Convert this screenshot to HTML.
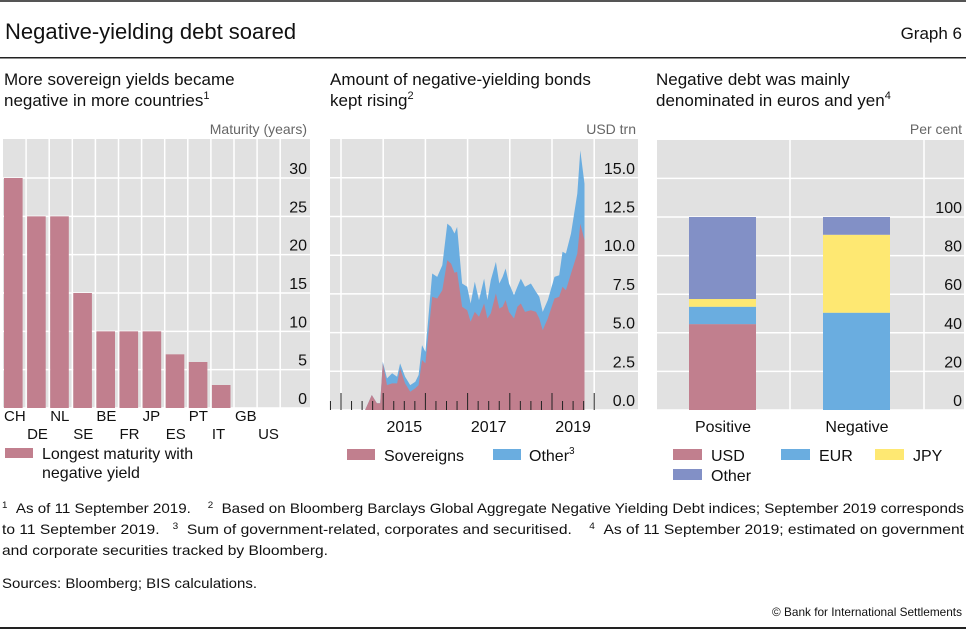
<!DOCTYPE html>
<html><head><meta charset="utf-8"><style>
html,body{margin:0;padding:0;background:#fff;}
svg{display:block;font-family:"Liberation Sans",sans-serif;}
</style></head><body>
<svg id="root" width="966" height="630" viewBox="0 0 966 630">
<rect x="0" y="0" width="966" height="2" fill="#555"/>
<text x="5" y="39" font-size="22" fill="#111">Negative-yielding debt soared</text>
<text x="962" y="39" font-size="17" fill="#111" text-anchor="end">Graph 6</text>
<rect x="0" y="57" width="966" height="1.5" fill="#222"/>

<g font-size="17" fill="#111">
<text x="4" y="85">More sovereign yields became</text>
<text x="4" y="106">negative in more countries<tspan font-size="11" dy="-7">1</tspan></text>
<text x="330" y="85">Amount of negative-yielding bonds</text>
<text x="330" y="106">kept rising<tspan font-size="11" dy="-7">2</tspan></text>
<text x="656" y="85">Negative debt was mainly</text>
<text x="656" y="106">denominated in euros and yen<tspan font-size="11" dy="-7">4</tspan></text>
</g>
<g font-size="14" fill="#666" text-anchor="end">
<text x="307" y="134">Maturity (years)</text>
<text x="636" y="134">USD trn</text>
<text x="962" y="134">Per cent</text>
</g>

<g id="p1"></g>
<g id="p2"></g>
<g id="p3"></g>

<g font-size="14" fill="#111">
<text x="2" y="513" textLength="962" lengthAdjust="spacingAndGlyphs"><tspan font-size="9" dy="-5">1</tspan><tspan dy="5">&#160;&#160;As of 11 September 2019.&#160;&#160;&#160;&#160;</tspan><tspan font-size="9" dy="-5">2</tspan><tspan dy="5">&#160;&#160;Based on Bloomberg Barclays Global Aggregate Negative Yielding Debt indices; September 2019 corresponds</tspan></text>
<text x="2" y="534" textLength="962" lengthAdjust="spacingAndGlyphs">to 11 September 2019.&#160;&#160;&#160;<tspan font-size="9" dy="-5">3</tspan><tspan dy="5">&#160;&#160;Sum of government-related, corporates and securitised.&#160;&#160;&#160;&#160;</tspan><tspan font-size="9" dy="-5">4</tspan><tspan dy="5">&#160;&#160;As of 11 September 2019; estimated on government</tspan></text>
<text x="2" y="555" textLength="326" lengthAdjust="spacingAndGlyphs">and corporate securities tracked by Bloomberg.</text>
<text x="2" y="588" textLength="255" lengthAdjust="spacingAndGlyphs">Sources: Bloomberg; BIS calculations.</text>
<text x="962" y="616" font-size="12" text-anchor="end" textLength="190" lengthAdjust="spacingAndGlyphs">© Bank for International Settlements</text>
</g>
<rect x="0" y="627" width="966" height="2" fill="#222"/>
</svg>
<script>
// Panel 1 data
const countries = ["CH","DE","NL","SE","BE","FR","JP","ES","PT","IT","GB","US"];
const maturities = [30,25,25,15,10,10,10,7,6,3,0,0];
const p1Ticks = [0,5,10,15,20,25,30];
// Panel 2 data
const dates = [2014.57,2014.73,2014.85,2014.93,2014.99,2015.09,2015.21,2015.33,2015.40,2015.52,2015.64,2015.76,2015.84,2015.92,2016.00,2016.16,2016.28,2016.40,2016.52,2016.61,2016.69,2016.75,2016.87,2016.99,2017.07,2017.17,2017.27,2017.39,2017.47,2017.55,2017.67,2017.75,2017.83,2017.90,2017.98,2018.10,2018.18,2018.26,2018.36,2018.50,2018.62,2018.70,2018.78,2018.90,2019.06,2019.17,2019.25,2019.33,2019.45,2019.60,2019.67,2019.77];
const sovereigns = [0,0.97,0.43,0.43,3.01,1.61,1.72,1.72,2.69,1.72,1.18,1.40,1.61,3.23,3.01,7.31,7.20,7.74,9.68,9.46,8.86,8.92,6.67,6.45,5.70,6.34,6.02,6.88,5.91,6.24,7.53,6.56,6.67,7.10,6.34,5.91,6.67,6.88,6.34,6.45,6.34,5.91,5.16,5.91,7.20,7.31,7.96,7.74,8.82,10.11,12.04,10.97];
const totals = [0,0.97,0.43,0.43,3.12,2.04,2.37,2.15,3.01,2.15,1.61,1.83,2.26,4.19,3.76,8.82,8.60,9.35,12.04,11.83,11.40,11.83,8.17,7.96,6.88,8.28,7.10,8.49,7.10,8.39,9.57,8.17,8.60,9.14,8.17,7.42,7.96,8.49,7.96,8.17,7.63,7.31,6.34,7.10,8.60,8.71,10.22,10.11,11.40,13.98,16.77,14.62];
const p2Ticks = [0,2.5,5,7.5,10,12.5,15];
const p2Years = [2015,2017,2019];
// Panel 3 data
const groups = ["Positive","Negative"];
const usd = [44.5,0];
const eur = [9,50.4];
const jpy = [4,40.4];
const other = [42.5,9.2];
const p3Ticks = [0,20,40,60,80,100];

const NS="http://www.w3.org/2000/svg";
function mk(parent,tag,attrs){const e=document.createElementNS(NS,tag);for(const k in attrs)e.setAttribute(k,attrs[k]);parent.appendChild(e);return e;}
const GRID="#fff", BG="#e1e1e1", PINK="#c17f8e", BLUE="#6aade0", YEL="#fee872", PUR="#8290c6";

// ---------- Panel 1 ----------
(function(){
const g=document.getElementById('p1');
const L=3,R=310,T=139,B=408;
const y=v=>B-v*(230/30);
const cw=23.1;
const x=i=>L+i*cw;
let bg=mk(g,'rect',{x:L,y:T,width:R-L,height:B-T,fill:BG});


p1Ticks.forEach(t=>{
  let l=mk(g,'line',{x1:L,x2:R,y1:y(t),y2:y(t),stroke:GRID,'stroke-width':1.5});
  
  
  let tx=mk(g,'text',{x:307,y:y(t)-4,'font-size':16,'text-anchor':'end',fill:'#111'});
  tx.textContent=t;
  
  
});
for(let i=1;i<=countries.length;i++){
  let l=mk(g,'line',{x1:x(i),x2:x(i),y1:T,y2:B,stroke:GRID,'stroke-width':1.5});
  
  
}
countries.forEach((c,i)=>{
  if(maturities[i]>0){
    let r=mk(g,'rect',{x:x(i)+1,y:y(maturities[i]),width:cw-4.5,height:B-y(maturities[i]),fill:PINK});
    
    
  }
  let tx=mk(g,'text',{x:x(i)+1,y:i%2===0?421:439,'font-size':15,fill:'#111'});
  tx.textContent=c;
  
  
});
let sw=mk(g,'rect',{x:5,y:448,width:28,height:10,fill:PINK});


let t1=mk(g,'text',{x:42,y:459,'font-size':16,fill:'#111'});t1.textContent='Longest maturity with';


let t2=mk(g,'text',{x:42,y:478,'font-size':16,fill:'#111'});t2.textContent='negative yield';


})();

// ---------- Panel 2 ----------
(function(){
const g=document.getElementById('p2');
const L=330,R=638,T=139,B=410;
const y=v=>B-v*(38.7/2.5);
const x=d=>341+(d-2014)*42.2;
let bg=mk(g,'rect',{x:L,y:T,width:R-L,height:B-T,fill:BG});


p2Ticks.forEach(t=>{
  let l=mk(g,'line',{x1:L,x2:R,y1:y(t),y2:y(t),stroke:GRID,'stroke-width':1.5});
  
  
  let tx=mk(g,'text',{x:635,y:y(t)-4,'font-size':16,'text-anchor':'end',fill:'#111'});
  tx.textContent=t.toFixed(1);
  
  
});
for(let yr=2014;yr<=2020;yr++){
  let l=mk(g,'line',{x1:x(yr),x2:x(yr),y1:T,y2:B,stroke:GRID,'stroke-width':1.5});
  
  
}
function area(vals,fill,name){
  let d='M'+x(dates[0])+','+y(0);
  dates.forEach((dt,i)=>{d+=' L'+x(dt).toFixed(1)+','+y(vals[i]).toFixed(1);});
  d+=' L'+x(dates[dates.length-1])+','+y(0)+' Z';
  let p=mk(g,'path',{d:d,fill:fill});
  
  
}
area(totals,BLUE,'other-area');
area(sovereigns,PINK,'sovereigns-area');
for(let q=2013.75;q<=2020.01;q+=0.25){
  const major=Math.abs(q-Math.round(q))<0.01;
  let l=mk(g,'line',{x1:x(q),x2:x(q),y1:major?393:401,y2:B,stroke:'#222','stroke-width':1});
  
  
}
p2Years.forEach(yr=>{
  let tx=mk(g,'text',{x:x(yr+0.5),y:432,'font-size':16,'text-anchor':'middle',fill:'#111'});
  tx.textContent=yr;
  
  
});
let s1=mk(g,'rect',{x:347,y:449,width:28,height:11,fill:PINK});


let l1=mk(g,'text',{x:384,y:461,'font-size':16,fill:'#111'});l1.textContent='Sovereigns';


let s2=mk(g,'rect',{x:493,y:449,width:28,height:11,fill:BLUE});


let l2=mk(g,'text',{x:529,y:461,'font-size':16,fill:'#111'});l2.innerHTML='Other<tspan font-size="10" dy="-7">3</tspan>';


})();

// ---------- Panel 3 ----------
(function(){
const g=document.getElementById('p3');
const L=657,R=964,T=140,B=410;
const y=v=>B-v*(193/100);
const cx=[723,857];
let bg=mk(g,'rect',{x:L,y:T,width:R-L,height:B-T,fill:BG});


[0,20,40,60,80,100,120].forEach(t=>{
  let l=mk(g,'line',{x1:L,x2:R,y1:y(t),y2:y(t),stroke:GRID,'stroke-width':1.5});
  
  
});
p3Ticks.forEach(t=>{
  let tx=mk(g,'text',{x:962,y:y(t)-4,'font-size':16,'text-anchor':'end',fill:'#111'});
  tx.textContent=t;
  
  
});
[790,924].forEach(xx=>{
  let l=mk(g,'line',{x1:xx,x2:xx,y1:T,y2:B,stroke:GRID,'stroke-width':1.5});
  
  
});
const series=[["usd",usd,PINK],["eur",eur,BLUE],["jpy",jpy,YEL],["other",other,PUR]];
groups.forEach((gr,i)=>{
  let base=0;
  series.forEach(([nm,vals,col])=>{
    const v=vals[i];
    if(v>0){
      let r=mk(g,'rect',{x:cx[i]-34,y:y(base+v),width:67,height:y(base)-y(base+v),fill:col});
      
      
    }
    base+=v;
  });
  let tx=mk(g,'text',{x:cx[i],y:432,'font-size':16,'text-anchor':'middle',fill:'#111'});
  tx.textContent=gr;
  
  
});
const leg=[["USD",PINK,673,449],["EUR",BLUE,781,449],["JPY",YEL,875,449],["Other",PUR,673,469]];
leg.forEach(([lab,col,lx,ly])=>{
  let s=mk(g,'rect',{x:lx,y:ly,width:29,height:11,fill:col});
  
  
  let t=mk(g,'text',{x:lx+38,y:ly+12,'font-size':16,fill:'#111'});t.textContent=lab;
  
  
});
})();
</script>
</body></html>
